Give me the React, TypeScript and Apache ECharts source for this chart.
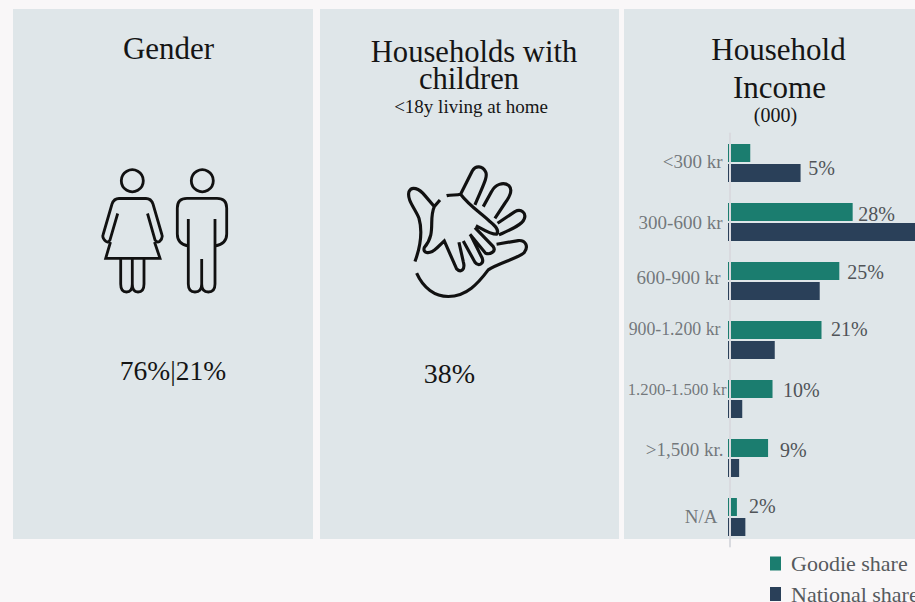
import React, { useEffect, useRef } from "react";
import * as echarts from "echarts";

// Household income distribution, share of Goodie members against the national share
const incomeBands = ["<300 kr", "300-600 kr", "600-900 kr", "900-1.200 kr", "1.200-1.500 kr", ">1,500 kr.", "N/A"];
const goodieShare = [5, 28, 25, 21, 10, 9, 2];
const nationalShare = [16.3, 43, 20.6, 10.5, 3.2, 2.5, 3.9];
const bandBaseline = [0, 0, 0, 0, 0, 0, 0];

const genderTitle = "Gender";
const genderValue = "76%|21%";
const childrenTitle = ["Households with", "children"];
const childrenNote = "<18y living at home";
const childrenValue = "38%";
const incomeTitle = ["Household", "Income"];
const incomeNote = "(000)";
const legendNames = ["Goodie share", "National share"];

// Hand placement of the band labels: [font size, dx, dy]
const bandLabelLayout = [
  [19, -5, -2],
  [19, -5, 0],
  [19, -7, -3.5],
  [17.8, -7, -11],
  [16.7, -1, -9.5],
  [19, -4, -9],
  [19, -10, -1],
];
// Hand placement of the value labels: [dx, dy]
const valueLabelOffset = [
  [58, 15],
  [5.5, 2],
  [8, 0.5],
  [9.5, -1],
  [10.5, 0.5],
  [12, 2],
  [12, -1],
];

const SERIF = '"Liberation Serif", serif';
const PAGE = "#f9f7f8";
const PANEL = "#dfe6e9";
const TEAL = "#1b7d6f";
const NAVY = "#2a4059";
const INK = "#151515";
const GREY = "#565a5e";

const womanPath =
  "M117.7 213.5 L110 240 Q108 243 106 241.5 Q102 238 103 235 L112 204 Q114 198.5 119 198.5 L146 198.5 Q151 198.5 153 204 L162 235 Q163 238 159.5 241.5 Q157 243 155 240 L147.5 213.5 " +
  "M110.5 242 L105.7 258.3 L160 258.3 L154.5 242 " +
  "M120.7 258.3 L120.7 284 Q120.7 292 126.5 292 Q132.3 292 132.3 284 L132.3 258.3 " +
  "M132.3 284 Q132.3 292 138 292 Q144 292 144 284 L144 258.3";
const manPath =
  "M188.3 219 L188.3 284 Q188.3 292 195 292 Q201.7 292 201.7 284 L201.7 259 " +
  "M201.7 284 Q201.7 292 208.3 292 Q215 292 215 284 L215 219 " +
  "M188.3 246 Q177.3 244 177.3 234 L177.3 208 Q177.3 198.3 187 198.3 L217 198.3 Q226.7 198.3 226.7 208 L226.7 234 Q226.7 244 215 246";
const handsPath =
  "M65 355 C85 400 120 425 160 425 C215 425 250 385 280 345 C310 325 370 310 388 293 C402 275 392 255 370 257 L305 268 " +
  "M60 320 C78 270 82 225 72 190 C60 160 35 135 42 110 C50 92 72 100 90 122 L118 155 L135 135 " +
  "M155 122 C170 118 185 122 197 118 L232 48 C242 30 262 32 272 50 C280 65 265 90 240 150 " +
  "M265 155 L290 110 C300 90 325 78 342 92 C355 105 345 125 330 145 L300 190 " +
  "M308 205 L360 170 C380 160 395 175 388 192 C382 210 345 225 312 240 " +
  "M118 155 C100 195 125 235 88 278 C82 296 105 300 125 280 L148 258 L185 342 C198 355 212 345 205 320 L192 262 " +
  "M205 258 L240 322 C250 335 268 328 262 310 L228 242 " +
  "M225 238 L272 295 C285 300 305 290 295 275 L240 218 " +
  "M243 212 C262 222 285 238 305 238 C315 225 300 212 285 200 C260 175 225 155 197 118";

echarts.graphic.registerShape("woman", echarts.graphic.extendPath(womanPath, {}));
echarts.graphic.registerShape("man", echarts.graphic.extendPath(manPath, {}));
echarts.graphic.registerShape("hands", echarts.graphic.extendPath(handsPath, {}));

const panel = (x: number, width: number) => ({
  type: "rect",
  z: -1,
  shape: { x, y: 9, width, height: 530 },
  style: { fill: PANEL },
});

const heading = (text: string, x: number, y: number, fontSize = 30.6) => ({
  type: "text",
  x,
  y,
  style: {
    text,
    fill: INK,
    font: `${fontSize}px ${SERIF}`,
    textAlign: "center",
    textVerticalAlign: "middle",
  },
});

const outline = { fill: "none", stroke: "#111111", lineWidth: 2.8 };

const legendEntry = (name: string, top: number) => ({
  orient: "vertical",
  left: 770,
  top,
  padding: 0,
  itemWidth: 11,
  itemHeight: 14,
  icon: "rect",
  data: [name],
  textStyle: { fontFamily: SERIF, fontSize: 22, color: GREY, padding: [0, 0, 0, 5] },
});

const option = {
  animation: false,
  backgroundColor: PAGE,
  graphic: {
    elements: [
      panel(13, 300),
      panel(320, 299),
      panel(624, 291),
      heading(genderTitle, 168.5, 48.5, 31),
      heading(childrenTitle[0], 474, 51.5),
      heading(childrenTitle[1], 469, 78.5),
      heading(childrenNote, 471, 106, 19),
      heading(incomeTitle[0], 778.5, 49.5, 31),
      heading(incomeTitle[1], 779.5, 87.5, 31),
      heading(incomeNote, 775.5, 115, 20),
      heading(genderValue, 173, 370, 27.5),
      heading(childrenValue, 449.5, 373, 28),
      { type: "circle", shape: { cx: 132.3, cy: 180.7, r: 11 }, style: outline },
      { type: "circle", shape: { cx: 202.3, cy: 180.7, r: 11 }, style: outline },
      { type: "woman", style: outline },
      { type: "man", style: outline },
      { type: "hands", x: 395, y: 155, scaleX: 1 / 3, scaleY: 1 / 3, style: { ...outline, lineWidth: 9.5 } },
    ],
  },
  legend: [legendEntry(legendNames[0], 552.5), legendEntry(legendNames[1], 583)],
  grid: { left: 728, top: 133.5, width: 187, height: 413 },
  xAxis: { type: "value", min: 0, max: 42, show: false },
  yAxis: {
    type: "category",
    inverse: true,
    offset: -1.5,
    z: 3,
    data: incomeBands,
    axisLine: { show: true, lineStyle: { color: "#d9dadf", width: 2 } },
    axisTick: { show: false },
    axisLabel: { show: false },
  },
  series: [
    {
      name: legendNames[0],
      type: "bar",
      barWidth: 18,
      barGap: "11%",
      itemStyle: { color: TEAL },
      label: {
        show: true,
        position: "right",
        distance: 0,
        formatter: "{c}%",
        fontFamily: SERIF,
        fontSize: 20,
        color: "#505458",
      },
      data: goodieShare.map((value, i) => ({ value, label: { offset: valueLabelOffset[i] } })),
    },
    {
      name: legendNames[1],
      type: "bar",
      barWidth: 18,
      itemStyle: { color: NAVY },
      data: nationalShare,
    },
    {
      // Band names sit on invisible points at the baseline, each nudged on its own
      name: "bands",
      type: "scatter",
      symbolSize: 1,
      itemStyle: { color: "transparent" },
      silent: true,
      label: {
        show: true,
        position: "left",
        distance: 0,
        fontFamily: SERIF,
        color: GREY,
        formatter: (p: any) => p.name,
      },
      data: incomeBands.map((name, i) => ({
        name,
        value: [bandBaseline[i], name],
        label: { fontSize: bandLabelLayout[i][0], offset: [bandLabelLayout[i][1], bandLabelLayout[i][2]] },
      })),
    },
  ],
};

export default function App() {
  const ref = useRef<HTMLDivElement>(null);
  useEffect(() => {
    const chart = echarts.init(ref.current!, undefined, { renderer: "svg" });
    chart.setOption(option as any);
    return () => chart.dispose();
  }, []);
  return <div ref={ref} style={{ position: "fixed", left: 0, top: 0, width: 915, height: 602 }} />;
}
